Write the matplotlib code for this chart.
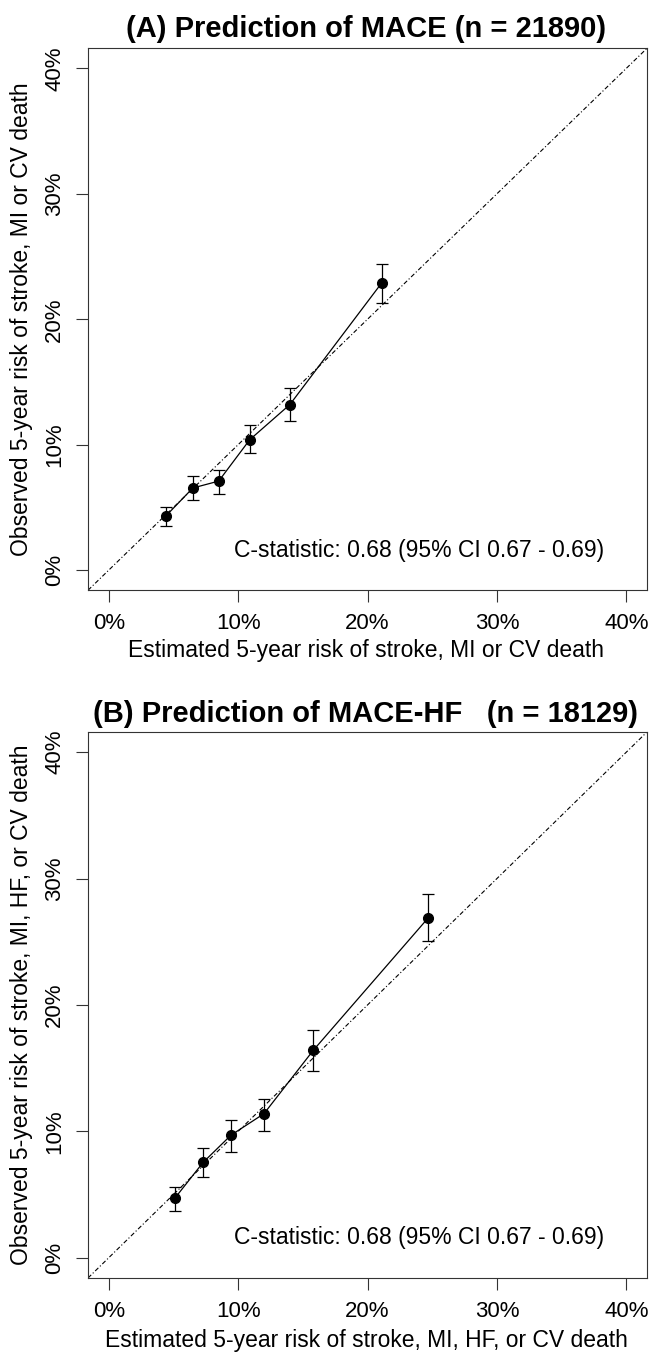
import numpy as np
import matplotlib
matplotlib.use("Agg")
import matplotlib.pyplot as plt

plt.rcParams['font.family'] = ['Liberation Sans', 'DejaVu Sans']

# panel A: MACE
est_a = [4.4, 6.5, 8.5, 10.9, 14.0, 21.1]
obs_a = [4.3, 6.55, 7.1, 10.4, 13.2, 22.9]
lo_a = [3.5, 5.6, 6.1, 9.3, 11.9, 21.3]
hi_a = [5.05, 7.5, 8.0, 11.6, 14.5, 24.4]

# panel B: MACE-HF
est_b = [5.1, 7.3, 9.45, 12.0, 15.8, 24.7]
obs_b = [4.7, 7.55, 9.7, 11.4, 16.4, 26.9]
lo_b = [3.7, 6.4, 8.4, 10.05, 14.8, 25.05]
hi_b = [5.6, 8.7, 10.9, 12.6, 18.0, 28.75]

ticks = [0, 10, 20, 30, 40]
tick_labels = ["0%", "10%", "20%", "30%", "40%"]

titles = ["(A) Prediction of MACE (n = 21890)",
          "(B) Prediction of MACE-HF   (n = 18129)"]
xlabels = ["Estimated 5-year risk of stroke, MI or CV death",
           "Estimated 5-year risk of stroke, MI, HF, or CV death"]
ylabels = ["Observed 5-year risk of stroke, MI or CV death",
           "Observed 5-year risk of stroke, MI, HF, or CV death"]
cstat = "C-statistic: 0.68 (95% CI 0.67 - 0.69)"

fig = plt.figure(figsize=(6.5, 13.6), dpi=100)
ax_a = fig.add_axes([0.1354, 0.566, 0.86, 0.3985])
ax_b = fig.add_axes([0.1354, 0.0603, 0.86, 0.4015])

panels = [(ax_a, est_a, obs_a, lo_a, hi_a), (ax_b, est_b, obs_b, lo_b, hi_b)]
title_y = [1 - 29 / 1360, 1 - 714 / 1360]
xlab_y = [1 - 650 / 1360, 1 - 1340 / 1360]

for i, (ax, est, obs, lo, hi) in enumerate(panels):
    est = np.array(est)
    obs = np.array(obs)
    yerr = [obs - np.array(lo), np.array(hi) - obs]
    lim = (-1.6, 41.6)
    ax.plot(lim, lim, color='black', lw=0.8, ls=(0, (4, 2, 1, 2)))
    ax.errorbar(est, obs, yerr=yerr, fmt='-o', color='black', lw=0.9,
                ms=7, capsize=4, capthick=0.9, elinewidth=0.9)
    ax.set_xlim(lim)
    ax.set_ylim(lim)
    ax.set_xticks(ticks)
    ax.set_xticklabels(tick_labels)
    ax.set_yticks(ticks)
    ax.set_yticklabels(tick_labels, rotation=90, va='center')
    ax.tick_params(length=8.5, width=0.8, pad=8, labelsize=16, color='#333333')
    for sp in ax.spines.values():
        sp.set_linewidth(0.8)
        sp.set_color('#333333')
    ax.text(24, 1.6, cstat, ha='center', va='center', fontsize=16.5)
    fig.text(0.563, title_y[i], titles[i], ha='center', va='center',
             fontsize=21, fontweight='bold')
    fig.text(0.563, xlab_y[i], xlabels[i], ha='center', va='center', fontsize=16.5)
    ybox = ax.get_position()
    fig.text(22 / 650, (ybox.y0 + ybox.y1) / 2, ylabels[i], rotation=90,
             ha='center', va='center', fontsize=16.5)

fig.savefig("out.png", dpi=100)
